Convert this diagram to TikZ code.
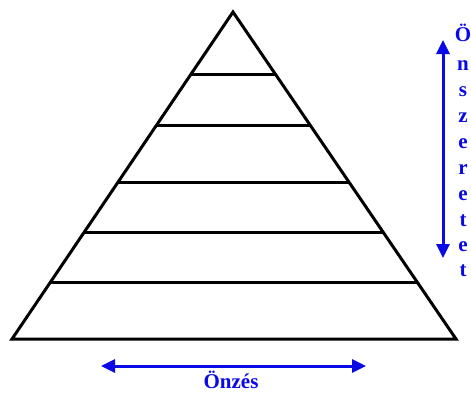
\documentclass[tikz,border=0pt]{standalone}
\usepackage{fontspec}
\setmainfont{Liberation Serif}
\usetikzlibrary{arrows.meta,calc}
\definecolor{myblue}{RGB}{10,10,230}
\begin{document}
\begin{tikzpicture}[x=1pt,y=-1pt,
  edge/.style={line width=3pt,line join=miter},
  bluearrow/.style={myblue,line width=3pt,{Triangle[length=14pt,width=13pt]}-{Triangle[length=14pt,width=13pt]}},
  letter/.style={text=myblue,font=\bfseries\fontsize{21}{25}\selectfont,anchor=base,inner sep=0pt}]
\useasboundingbox (0,0) rectangle (471,392);
\fill[white] (0,0) rectangle (471,392);
\coordinate (apex) at (233,12);
\coordinate (bl) at (12,339);
\coordinate (br) at (456,339);
\draw[edge] (apex) -- (bl) -- (br) -- cycle;
\foreach \t [count=\i] in {0.1896,0.3486,0.5199,0.6728,0.8257}{
  \coordinate (l\i) at ($(apex)!\t!(bl)$);
  \coordinate (r\i) at ($(apex)!\t!(br)$);
  \draw[edge] (l\i) -- (r\i);
}
\coordinate (vtop) at (443,40);
\coordinate (vbot) at (443,258);
\draw[bluearrow] (vtop) -- (vbot);
\coordinate (hl) at (101,366);
\coordinate (hr) at (366,366);
\draw[bluearrow] (hl) -- (hr);
\foreach \c/\y [count=\i] in {Ö/41,n/70,s/96,z/122,e/148,r/174,e/200,t/226,e/251,t/276}{
  \node[letter] (v\i) at (463,\y) {\c};
}
\node[letter] (onzes) at (231,388) {Önzés};
\end{tikzpicture}
\end{document}
